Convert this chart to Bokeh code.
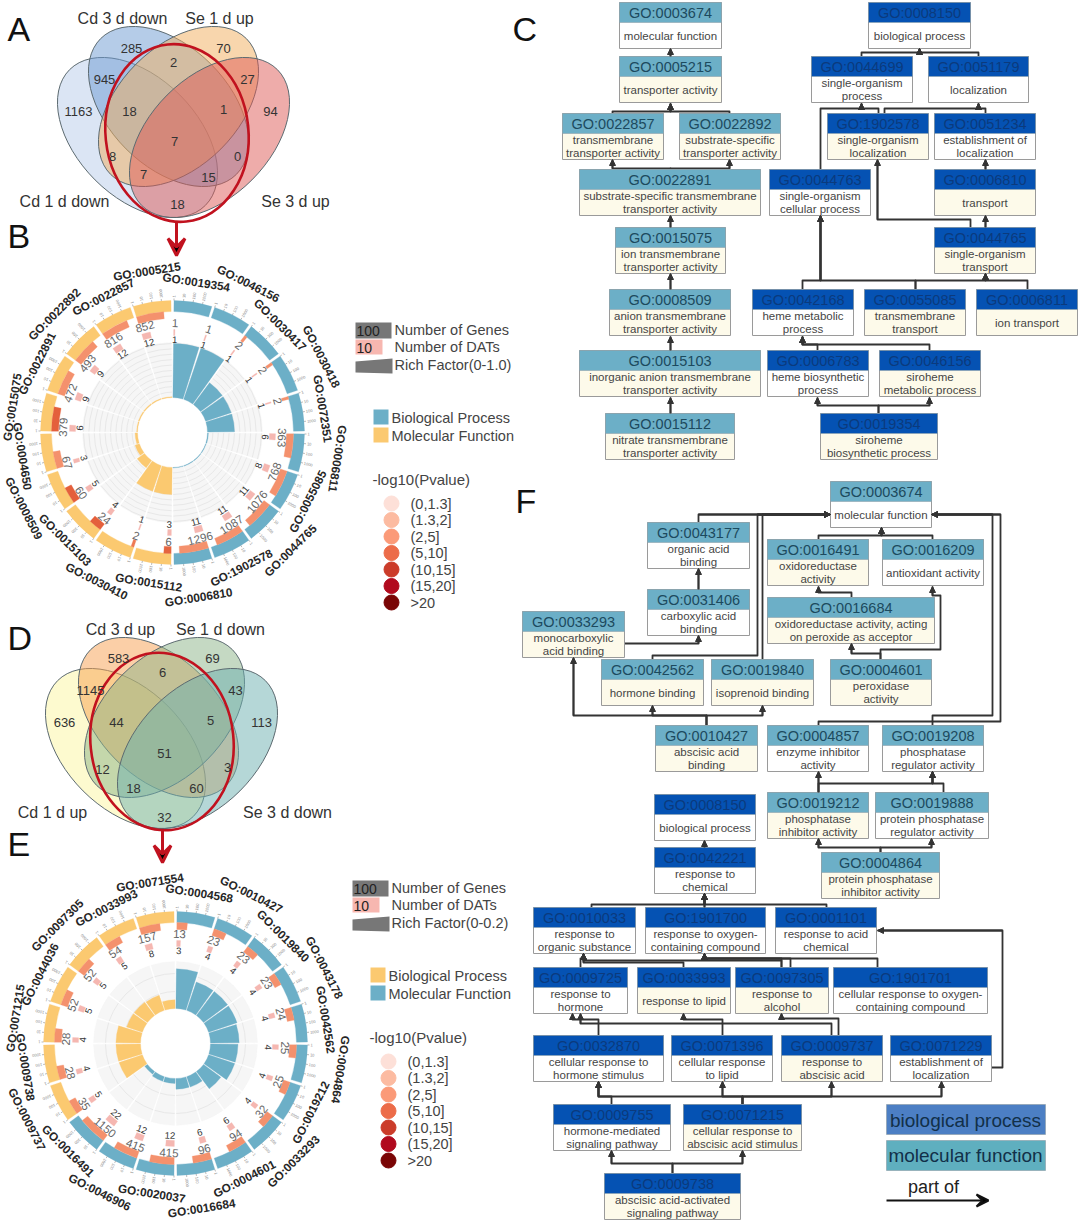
from math import sin, cos, radians, log10
from bokeh.plotting import figure
from bokeh.models import Range1d, ColumnDataSource, Arrow, NormalHead, VeeHead
from bokeh.core.properties import value
from bokeh.embed import file_html
from bokeh.resources import INLINE

FONT = value("Liberation Sans")
BLUE, YEL = "#6cafc7", "#fbc970"
W, H = 1080, 1221

# ---------- Venn data ----------
a_names = ["Cd 3 d down", "Se 1 d up", "Cd 1 d down", "Se 3 d up"]
a_counts = ["285", "2", "70", "945", "27", "1163", "18", "1", "94", "7", "8", "0", "7", "15", "18"]
d_names = ["Cd 3 d up", "Se 1 d down", "Cd 1 d up", "Se 3 d down"]
d_counts = ["583", "6", "69", "1145", "43", "636", "44", "5", "113", "51", "12", "3", "18", "60", "32"]

# ---------- Circular chart data ----------
b_terms = ["0019354", "0046156", "0030417", "0030418", "0072351", "0006811", "0055085", "0044765", "1902578", "0006810",
           "0015112", "0030410", "0015103", "0008509", "0004650", "0015075", "0022891", "0022892", "0022857", "0005215"]
b_genes = [1, 1, 2, 2, 2, 363, 768, 1076, 1087, 1296, 6, 2, 24, 60, 67, 379, 472, 493, 816, 852]
b_dats = [1, 1, 1, 1, 1, 6, 8, 11, 11, 11, 3, 1, 4, 5, 3, 6, 9, 9, 12, 12]
b_blue_count = 10
b_pcolor = ["#f4916d"] * 10 + ["#e4653f", "#ee7a55", "#e4603c", "#e4603c", "#f4916d", "#e4603c"] + ["#f4916d"] * 4

e_terms = ["0004568", "0010427", "0019840", "0043178", "0042562", "0004864", "0019212", "0033293", "0004601", "0016684",
           "0020037", "0046906", "0016491", "0009737", "0009738", "0071215", "0044036", "0097305", "0033993", "0071554"]
e_genes = [13, 23, 23, 23, 24, 25, 25, 32, 94, 96, 415, 415, 1150, 35, 28, 28, 52, 52, 54, 157]
e_dats = [3, 4, 4, 4, 4, 4, 4, 4, 6, 6, 12, 12, 22, 5, 4, 4, 5, 5, 5, 8]
e_blue_count = 13
e_pcolor = ["#f4916d"] * 20

tick_labels = ["1", "10", "100", "1000"]
label_radius = [152, 167, 152, 167, 152, 167, 152, 167, 152, 167, 152, 167, 152, 167, 152, 162, 152, 167, 152, 163]
pvalue_bins = ["(0,1.3]", "(1.3,2]", "(2,5]", "(5,10]", "(10,15]", "(15,20]", ">20"]
pvalue_colors = ["#fde0d8", "#fcbba1", "#fb9a78", "#ec6c49", "#cb3c2a", "#b10a1e", "#7a0505"]

# ---------- GO graph C ----------
c_ids = ["0003674", "0005215", "0022857", "0022892", "0022891", "0015075", "0008509", "0015103", "0015112",
         "0008150", "0044699", "0051179", "1902578", "0051234", "0044763", "0006810", "0044765", "0042168",
         "0055085", "0006811", "0006783", "0046156", "0019354"]
c_desc = ["molecular function", "transporter activity", "transmembrane|transporter activity",
          "substrate-specific|transporter activity", "substrate-specific transmembrane|transporter activity",
          "ion transmembrane|transporter activity", "anion transmembrane|transporter activity",
          "inorganic anion transmembrane|transporter activity", "nitrate transmembrane|transporter activity",
          "biological process", "single-organism|process", "localization", "single-organism|localization",
          "establishment of|localization", "single-organism|cellular process", "transport", "single-organism|transport",
          "heme metabolic|process", "transmembrane|transport", "ion transport", "heme biosynthetic|process",
          "siroheme|metabolic process", "siroheme|biosynthetic process"]
c_kind = "MMMMMMMMMBBBBBBBBBBBBBB"
c_body = "WCCCCCCCCWWWCWWCCWCCWCC"
c_x0 = [619, 619, 562, 679, 579, 615, 609, 579, 605, 868, 811, 928, 827, 934, 769, 934, 934, 752, 864, 976, 767, 879, 820]
c_x1 = [721, 721, 663, 780, 760, 725, 730, 760, 734, 970, 912, 1028, 928, 1035, 870, 1035, 1035, 853, 965, 1077, 868, 980, 937]
c_y0 = [2, 56, 113, 113, 169, 227, 289, 350, 413, 2, 56, 56, 113, 113, 169, 169, 227, 289, 289, 289, 350, 350, 413]
c_edges = [
    [(670, 56), (670, 48)],
    [(612, 113), (612, 111), (670, 111), (670, 103)],
    [(729, 113), (729, 111), (670, 111), (670, 103)],
    [(670, 169), (670, 168), (612, 168), (612, 159)],
    [(670, 169), (670, 168), (729, 168), (729, 159)],
    [(670, 227), (670, 215)], [(670, 289), (670, 273)], [(670, 350), (670, 336)], [(670, 413), (670, 397)],
    [(861, 56), (861, 52), (919, 52), (919, 48)],
    [(978, 56), (978, 52), (919, 52), (919, 48)],
    [(878, 113), (878, 108), (861, 108), (861, 103)],
    [(820, 169), (820, 108), (861, 108), (861, 103)],
    [(985, 113), (985, 108), (978, 108), (978, 103)],
    [(884, 113), (884, 108), (978, 108), (978, 103)],
    [(985, 169), (985, 159)], [(985, 227), (985, 215)],
    [(970, 227), (970, 219), (877, 219), (877, 159)],
    [(802, 289), (802, 280), (820, 280), (820, 215)],
    [(915, 289), (915, 280), (820, 280), (820, 215)],
    [(915, 289), (915, 280), (985, 280), (985, 273)],
    [(1027, 289), (1027, 280), (985, 280), (985, 273)],
    [(817, 350), (817, 344), (802, 344), (802, 336)],
    [(929, 350), (929, 344), (802, 344), (802, 336)],
    [(878, 413), (878, 405), (817, 405), (817, 397)],
    [(878, 413), (878, 405), (929, 405), (929, 397)],
]

# ---------- GO graph F ----------
f_ids = ["0003674", "0043177", "0016491", "0016209", "0031406", "0016684", "0033293", "0042562", "0019840", "0004601",
         "0010427", "0004857", "0019208", "0019212", "0019888", "0004864",
         "0008150", "0042221", "0010033", "1901700", "0001101", "0009725", "0033993", "0097305", "1901701",
         "0032870", "0071396", "0009737", "0071229", "0009755", "0071215", "0009738"]
f_desc = ["molecular function", "organic acid|binding", "oxidoreductase|activity", "antioxidant activity",
          "carboxylic acid|binding", "oxidoreductase activity, acting|on peroxide as acceptor",
          "monocarboxylic|acid binding", "hormone binding", "isoprenoid binding", "peroxidase|activity",
          "abscisic acid|binding", "enzyme inhibitor|activity", "phosphatase|regulator activity",
          "phosphatase|inhibitor activity", "protein phosphatase|regulator activity",
          "protein phosphatase|inhibitor activity",
          "biological process", "response to|chemical", "response to|organic substance",
          "response to oxygen-|containing compound", "response to acid|chemical", "response to|hormone",
          "response to lipid", "response to|alcohol", "cellular response to oxygen-|containing compound",
          "cellular response to|hormone stimulus", "cellular response|to lipid", "response to|abscisic acid",
          "establishment of|localization", "hormone-mediated|signaling pathway",
          "cellular response to|abscisic acid stimulus", "abscisic acid-activated|signaling pathway"]
f_kind = "MMMMMMMMMMMMMMMMBBBBBBBBBBBBBBBB"
f_body = "WWCWWCCCCCCWWCWCWWWWWWCCWWWCWWCC"
f_x0 = [830, 647, 767, 882, 647, 767, 522, 601, 711, 830, 655, 767, 882, 767, 875, 821,
        654, 654, 533, 645, 775, 533, 637, 735, 833, 533, 671, 781, 890, 553, 683, 604]
f_x1 = [931, 749, 868, 983, 749, 934, 624, 703, 813, 931, 757, 868, 983, 868, 988, 939,
        755, 755, 635, 765, 876, 627, 730, 828, 987, 663, 772, 882, 991, 670, 801, 740]
f_y0 = [481, 522, 539, 539, 589, 597, 611, 659, 659, 659, 725, 725, 725, 792, 792, 852,
        794, 847, 907, 907, 907, 967, 967, 967, 967, 1035, 1035, 1035, 1035, 1104, 1104, 1173]
f_edges = [
    [(698, 522), (698, 514), (830, 514)],
    [(652, 659), (652, 655), (757, 655), (757, 514), (830, 514)],
    [(762, 659), (762, 514), (830, 514)],
    [(818, 539), (818, 535), (881, 535), (881, 527)],
    [(932, 539), (932, 535), (881, 535), (881, 527)],
    [(818, 725), (818, 721), (932, 721), (932, 715), (992, 715), (992, 514), (931, 514)],
    [(932, 725), (932, 721), (1000, 721), (1000, 514), (931, 514)],
    [(698, 589), (698, 568)],
    [(624, 643), (698, 643), (698, 635)],
    [(851, 597), (851, 592), (818, 592), (818, 586)],
    [(880, 659), (880, 653), (851, 653), (851, 643)],
    [(880, 659), (880, 649), (940, 649), (940, 595), (932, 595), (932, 586)],
    [(706, 725), (706, 715), (652, 715), (652, 705)],
    [(706, 725), (706, 715), (762, 715), (762, 705)],
    [(706, 725), (706, 715), (573, 715), (573, 657)],
    [(818, 792), (818, 771)],
    [(818, 792), (818, 783), (932, 783), (932, 771)],
    [(943, 792), (943, 783), (932, 783), (932, 771)],
    [(880, 852), (880, 847), (818, 847), (818, 838)],
    [(880, 852), (880, 847), (931, 847), (931, 838)],
    [(704, 847), (704, 840)],
    [(591, 907), (591, 904), (704, 904), (704, 893)],
    [(704, 907), (704, 893)],
    [(826, 907), (826, 904), (704, 904), (704, 893)],
    [(580, 967), (580, 958), (583, 958), (583, 953)],
    [(683, 967), (683, 962), (583, 962), (583, 953)],
    [(781, 967), (781, 960), (583, 960), (583, 953)],
    [(781, 967), (781, 958), (704, 958), (704, 953)],
    [(790, 967), (790, 958), (704, 958), (704, 953)],
    [(877, 967), (877, 958), (704, 958), (704, 953)],
    [(991, 1067), (1002, 1067), (1002, 930), (877, 930)],
    [(598, 1035), (598, 1019), (572, 1019), (572, 1013)],
    [(831, 1035), (831, 1023), (580, 1023), (580, 1013)],
    [(722, 1035), (722, 1019), (683, 1019), (683, 1013)],
    [(838, 1035), (838, 1018), (781, 1018), (781, 1013)],
    [(611, 1104), (611, 1096), (598, 1096), (598, 1081)],
    [(742, 1104), (742, 1096), (598, 1096), (598, 1081)],
    [(742, 1104), (742, 1096), (722, 1096), (722, 1081)],
    [(742, 1104), (742, 1096), (831, 1096), (831, 1081)],
    [(742, 1104), (742, 1096), (941, 1096), (941, 1081)],
    [(672, 1173), (672, 1163), (611, 1163), (611, 1150)],
    [(672, 1173), (672, 1163), (742, 1163), (742, 1150)],
]

p = figure(width=W, height=H, x_range=Range1d(0, W), y_range=Range1d(H, 0),
           output_backend="svg", toolbar_location=None, min_border=0)
p.axis.visible = False
p.grid.visible = False
p.outline_line_color = None


def txt(xs, ys, texts, size, color="#333333", align="center", angle=0, style="normal", baseline="middle"):
    if not isinstance(angle, list):
        angle = [angle] * len(xs)
    src = ColumnDataSource(dict(x=xs, y=ys, text=texts, angle=angle))
    p.text("x", "y", text="text", angle="angle", angle_units="deg", source=src, text_font=FONT,
           text_font_size=size, text_color=color, text_align=align, text_baseline=baseline,
           text_font_style=style)


# panel letters
txt([7, 7, 512, 7, 7, 515], [28.5, 235, 28, 637, 843, 500], ["A", "B", "C", "D", "E", "F"], "34px", "#111111", "left")


def venn(cx1, cx2, cy1, cy2, mid, colors, red_c, a=96, b=60):
    src = ColumnDataSource(dict(
        x=[cx1, cx2, 2 * mid - cx2, 2 * mid - cx1], y=[cy1, cy2, cy2, cy1],
        w=[2 * a] * 4, h=[2 * b] * 4, ang=[-45, -45, 45, 45], c=colors))
    p.ellipse("x", "y", width="w", height="h", angle="ang", angle_units="deg", source=src,
              fill_color="c", fill_alpha=0.5, line_color="#5c6a70", line_width=1)
    p.ellipse([red_c[0]], [red_c[1]], width=[143], height=[178], angle=[6], angle_units="deg",
              fill_color=None, line_color="#c1121f", line_width=2.6)


venn(137, 168, 137, 106, 173, ["#b8cbea", "#6c9ad2", "#f2ae5c", "#de5a55"], (176.5, 132.5))
venn(125, 158, 748, 717, 161, ["#fbf5a0", "#f7a050", "#8cb488", "#6bb0b0"], (161.5, 741))

txt([122, 219, 64, 295], [18, 18, 201, 201], a_names, "16px")
txt([131, 173, 223, 104, 247, 78, 129, 223, 270, 174, 112, 237, 143, 208, 177],
    [48, 62, 48, 79, 79, 111, 111, 109, 111, 141, 156, 156, 174, 177, 204], a_counts, "13px")
txt([120, 220, 52, 287], [629, 629, 812, 812], d_names, "16px")
txt([118, 162, 212, 90, 235, 64, 116, 210, 261, 164, 102, 227, 133, 196, 164],
    [658, 672, 658, 690, 690, 722, 722, 720, 722, 753, 769, 767, 788, 788, 817], d_counts, "13px")

for x, y0, y1 in [(176, 222, 255), (162, 830, 862)]:
    p.add_layout(Arrow(end=VeeHead(size=17, line_color="#c1121f", line_width=3), x_start=x, y_start=y0,
                       x_end=x, y_end=y1, line_color="#c1121f", line_width=3))


def pol(cx, cy, r, th):
    return cx + r * sin(radians(th)), cy - r * cos(radians(th))


def ang_rot(th):
    th = th % 360
    return 180 - th if 108 < th < 270 else -th


def wedges(cx, cy, r0, r1, t0, t1, colors, alpha=1.0):
    src = ColumnDataSource(dict(
        x=[cx] * len(t0), y=[cy] * len(t0), r0=r0, r1=r1,
        a0=[90 - t for t in t1], a1=[90 - t for t in t0], c=colors))
    p.annular_wedge("x", "y", inner_radius="r0", outer_radius="r1", start_angle="a0", end_angle="a1",
                    start_angle_units="deg", end_angle_units="deg", source=src, fill_color="c", line_color="c",
                    line_width=0.3, direction="anticlock", fill_alpha=alpha)


def circular(cx, cy, terms, genes, dats, n_blue, pcolor, colors0, colors1, ring_in, bar_in, bar_k, grid_rs, bg_r):
    n = len(terms)
    st = [i * 360 / n for i in range(n)]
    en = [s + 360 / n for s in st]
    cols = [colors0] * n_blue + [colors1] * (n - n_blue)
    g = 0.65
    # background and grid
    wedges(cx, cy, [35] * n, [bg_r] * n, [s + g for s in st], [e - g for e in en], ["#f6f6f6"] * n)
    for gr in grid_rs:
        p.arc([cx] * n, [cy] * n, radius=[gr] * n, start_angle=[90 - e + g for e in en],
              end_angle=[90 - s - g for s in st], start_angle_units="deg", end_angle_units="deg",
              direction="anticlock", line_color="#e8e8e8", line_width=1)
    # rich factor
    rr = [35 + bar_k * d / v for d, v in zip(dats, genes)]
    wedges(cx, cy, [35] * n, rr, [s + g for s in st], [e - g for e in en], cols)
    # outer ring
    wedges(cx, cy, [ring_in] * n, [132] * n, [s + g for s in st], [e - g for e in en], cols)
    # gene bars (a count of 1 has log 0 and so no bar)
    idx = [i for i, v in enumerate(genes) if v > 1]
    gw = {i: log10(genes[i]) / 4 * 360 / n for i in idx}
    wedges(cx, cy, [bar_in] * len(idx), [ring_in] * len(idx), [st[i] + g for i in idx],
           [st[i] + g + gw[i] for i in idx], [pcolor[i] for i in idx])
    # DAT bars
    dw = [max(log10(v) / 4, 0.04) * 360 / n for v in dats]
    wedges(cx, cy, [97] * n, [103] * n, [s + g for s in st], [s + g + w for s, w in zip(st, dw)], ["#f5b7b1"] * n)
    # numbers
    la = [s + w / 2 + 1 for s, w in zip(st, dw)]
    for r, vals, size, col in [(109.5, genes, "11.5px", "#666666"), (92.5, dats, "9.5px", "#333333")]:
        xy = [pol(cx, cy, r, t) for t in la]
        txt([q[0] for q in xy], [q[1] for q in xy], [str(v) for v in vals], size, col,
            angle=[ang_rot(t) for t in la])
    # ticks
    tx0, ty0, tx1, ty1, lx, ly, lt, la2 = [], [], [], [], [], [], [], []
    for s in st:
        for k, lab in enumerate(tick_labels):
            t = s + g + k * 0.25 * (360 / n - 2 * g)
            a = pol(cx, cy, 132, t)
            b = pol(cx, cy, 134, t)
            c = pol(cx, cy, 135, t)
            tx0.append(a[0]); ty0.append(a[1]); tx1.append(b[0]); ty1.append(b[1])
            lx.append(c[0]); ly.append(c[1]); lt.append(lab); la2.append(90 - t)
    p.segment(tx0, ty0, tx1, ty1, line_color="#888888", line_width=0.6)
    txt(lx, ly, lt, "4px", "#888888", align="left", angle=la2)
    # term labels
    mids = [s + 9 for s in st]
    xy = [pol(cx, cy, r, t) for r, t in zip(label_radius, mids)]
    txt([q[0] for q in xy], [q[1] for q in xy], ["GO:" + t for t in terms], "11.8px", "#262626",
        angle=[ang_rot(t) for t in mids], style="bold")


circular(172, 432, b_terms, b_genes, b_dats, b_blue_count, b_pcolor, BLUE, YEL, 121, 114, 54,
         [35 + 5.4 * k for k in range(1, 11)], 90)
circular(175, 1043, e_terms, e_genes, e_dats, e_blue_count, e_pcolor, BLUE, YEL, 121, 114, 172,
         [52, 70], 82)


def legend(x0, y0, rich, cats, dy_cat):
    # gray / pink key
    p.quad(left=[x0], right=[x0 + 36], top=[y0], bottom=[y0 + 16], fill_color="#777777", line_color=None)
    p.quad(left=[x0], right=[x0 + 27], top=[y0 + 17], bottom=[y0 + 32], fill_color="#f7b7b0", line_color=None)
    p.patch([x0, x0 + 37, x0 + 37, x0], [y0 + 39, y0 + 36, y0 + 51, y0 + 50], fill_color="#777777", line_color=None)
    txt([x0 + 1, x0 + 1], [y0 + 8, y0 + 25], ["100", "10"], "14px", "#222222", "left")
    txt([x0 + 39] * 3, [y0 + 7, y0 + 24, y0 + 42], ["Number of Genes", "Number of DATs", rich], "14.5px", "#444444", "left")
    x1 = x0 + 18
    p.quad(left=[x1, x1], right=[x1 + 15, x1 + 15], top=[y0 + dy_cat, y0 + dy_cat + 18],
           bottom=[y0 + dy_cat + 15, y0 + dy_cat + 33], fill_color=[cats[0][1], cats[1][1]], line_color=None)
    txt([x1 + 18] * 2, [y0 + dy_cat + 8, y0 + dy_cat + 26], [cats[0][0], cats[1][0]], "14.5px", "#444444", "left")
    txt([x0 + 17], [y0 + dy_cat + 70], ["-log10(Pvalue)"], "15px", "#444444", "left")
    ys = [y0 + dy_cat + 94 + 16.5 * i for i in range(7)]
    p.scatter([x0 + 36] * 7, ys, size=15, color=pvalue_colors)
    txt([x0 + 55] * 7, ys, pvalue_bins, "14.5px", "#444444", "left")


legend(355, 322, "Rich Factor(0-1.0)", [("Biological Process", BLUE), ("Molecular Function", YEL)], 87)
legend(352, 880, "Rich Factor(0-0.2)", [("Biological Process", YEL), ("Molecular Function", BLUE)], 87)


def graph(ids, desc, kind, body, x0, x1, y0, edges):
    h = 46
    head = [{"M": "#6cafc7", "B": "#0552b3"}[k] for k in kind]
    fill = [{"W": "#ffffff", "C": "#fdfaea"}[k] for k in body]
    ybot = [y + h for y in y0]
    # connectors
    p.multi_line([[q[0] for q in e] for e in edges], [[q[1] for q in e] for e in edges],
                 line_color="#333333", line_width=1.8, line_join="round")
    src = ColumnDataSource(dict(x0=[e[-2][0] for e in edges], y0=[e[-2][1] for e in edges],
                                x1=[e[-1][0] for e in edges], y1=[e[-1][1] for e in edges]))
    p.add_layout(Arrow(end=NormalHead(size=6, fill_color="#333333", line_color="#333333"), source=src,
                       x_start="x0", y_start="y0", x_end="x1", y_end="y1", line_color="#333333", line_width=1.8))
    p.quad(left=x0, right=x1, top=y0, bottom=ybot, fill_color=fill, line_color="#9a9a9a", line_width=1)
    p.quad(left=x0, right=x1, top=y0, bottom=[y + 20 for y in y0], fill_color=head, line_color="#8fa3ad", line_width=0.6)
    cx = [(a + b) / 2 for a, b in zip(x0, x1)]
    for k, col in [("M", "#1c4a5e"), ("B", "#0b3a7d")]:
        idx = [i for i, q in enumerate(kind) if q == k]
        txt([cx[i] for i in idx], [y0[i] + 10.5 for i in idx], ["GO:" + ids[i] for i in idx], "14.5px", col)
    lx, ly, lt = [], [], []
    for i, d in enumerate(desc):
        parts = d.split("|")
        offs = [33] if len(parts) == 1 else [26, 39.5]
        for t, o in zip(parts, offs):
            lx.append(cx[i]); ly.append(y0[i] + o); lt.append(t)
    txt(lx, ly, lt, "11.5px", "#454545")


graph(c_ids, c_desc, c_kind, c_body, c_x0, c_x1, c_y0, c_edges)
graph(f_ids, f_desc, f_kind, f_body, f_x0, f_x1, f_y0, f_edges)

# graph legend
p.quad(left=[886, 886], right=[1045, 1045], top=[1104, 1140], bottom=[1134, 1170],
       fill_color=["#4c7fc4", "#5fafbf"], line_color="#8a9aa5", line_width=0.6)
txt([965, 965], [1120, 1155], ["biological process", "molecular function"], "19px", "#123049")
txt([933], [1186], ["part of"], "18px", "#222222")
p.add_layout(Arrow(end=VeeHead(size=12, line_color="#111111", line_width=2), x_start=886, y_start=1200,
                   x_end=988, y_end=1200, line_color="#111111", line_width=2))

open("out.html", "w").write(file_html(p, INLINE))
